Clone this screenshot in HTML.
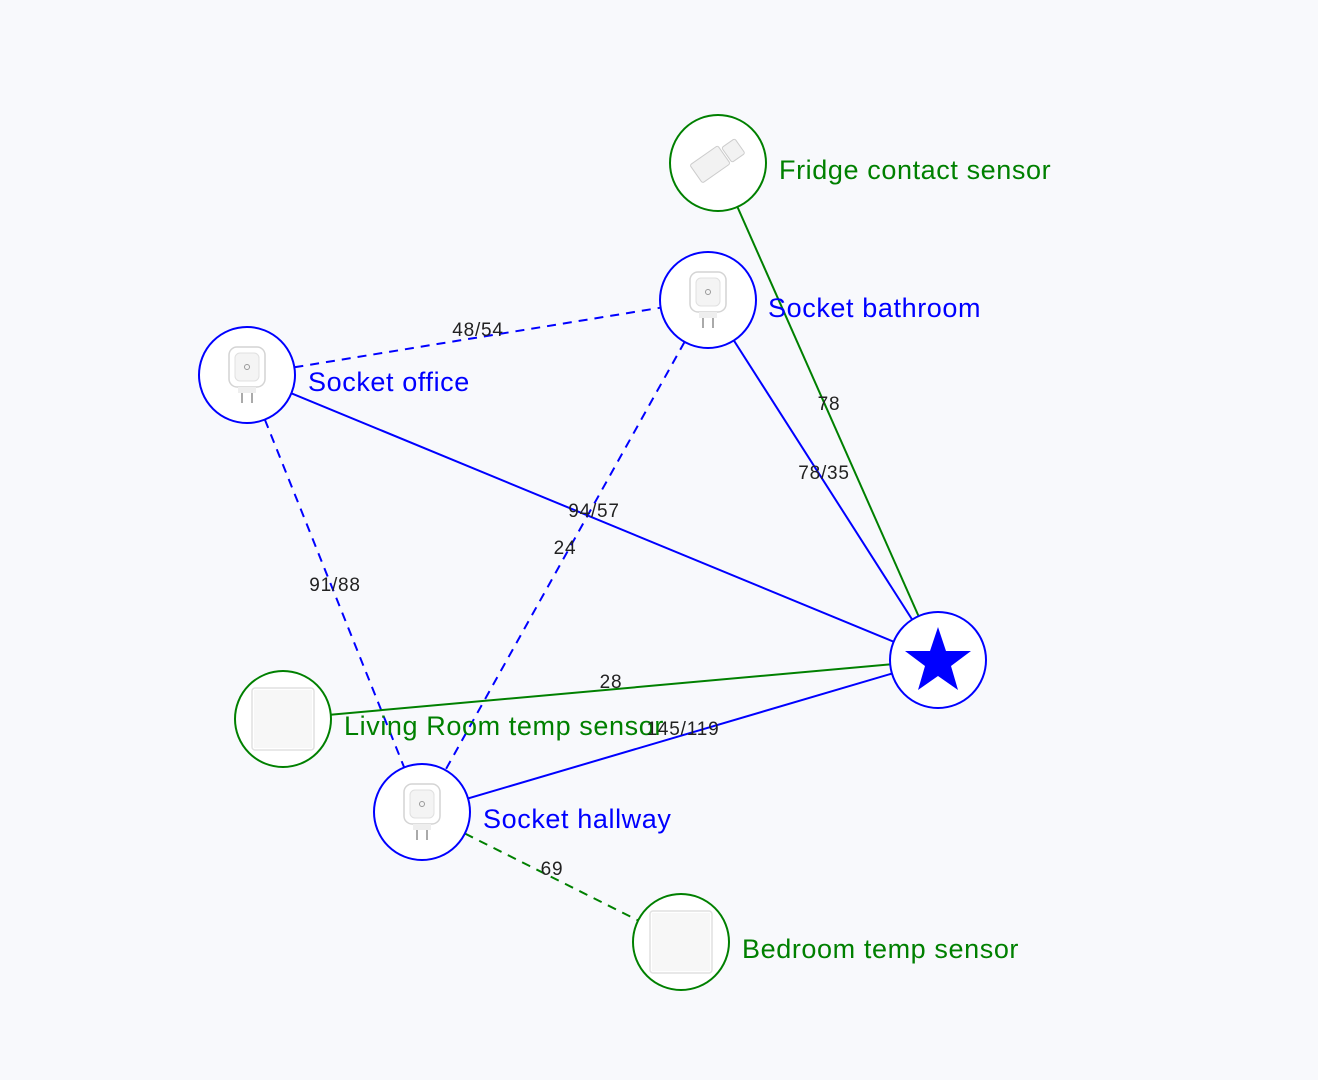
<!DOCTYPE html>
<html><head><meta charset="utf-8"><style>
html,body{margin:0;padding:0;background:#f8f9fc;}
svg{display:block}
.lbl{font-family:"Liberation Sans",sans-serif;font-size:27px;letter-spacing:0.6px;}
.el{font-family:"Liberation Sans",sans-serif;font-size:19px;letter-spacing:0.8px;fill:#222;}
</style></head><body>
<svg width="1318" height="1080" viewBox="0 0 1318 1080" xmlns="http://www.w3.org/2000/svg">
<rect width="1318" height="1080" fill="#f8f9fc"/>
<defs>
<g id="sock">
<rect x="-18" y="-26" width="36" height="40" rx="8" fill="#fff" stroke="#d4d4d4" stroke-width="1.5"/>
<rect x="-12" y="-20" width="24" height="28" rx="5" fill="#f4f4f4" stroke="#e0e0e0"/>
<circle cx="0" cy="-6" r="2.5" fill="none" stroke="#999"/>
<rect x="-9" y="14" width="18" height="6" fill="#eee"/>
<rect x="-6" y="20" width="2" height="10" fill="#aaa"/>
<rect x="4" y="20" width="2" height="10" fill="#aaa"/>
</g>
<g id="sens">
<rect x="-31" y="-31" width="62" height="62" rx="3" fill="#fff" stroke="#e0e0e0" stroke-width="1.5"/>
<rect x="-29" y="-29" width="58" height="58" fill="#f7f7f7"/>
</g>
</defs>
<g stroke-width="2" fill="none">
<line x1="247" y1="375" x2="708" y2="300" stroke="#0000ff" stroke-dasharray="9,7"/>
<line x1="247" y1="375" x2="938" y2="660" stroke="#0000ff"/>
<line x1="247" y1="375" x2="422" y2="812" stroke="#0000ff" stroke-dasharray="9,7"/>
<line x1="708" y1="300" x2="422" y2="812" stroke="#0000ff" stroke-dasharray="9,7"/>
<line x1="708" y1="300" x2="938" y2="660" stroke="#0000ff"/>
<line x1="718" y1="163" x2="938" y2="660" stroke="#008000"/>
<line x1="283" y1="719" x2="938" y2="660" stroke="#008000"/>
<line x1="422" y1="812" x2="938" y2="660" stroke="#0000ff"/>
<line x1="422" y1="812" x2="681" y2="942" stroke="#008000" stroke-dasharray="9,7"/>
</g>
<g stroke-width="2">
<circle cx="718" cy="163" r="48" fill="#fff" stroke="#008000"/>
<circle cx="708" cy="300" r="48" fill="#fff" stroke="#0000ff"/>
<circle cx="247" cy="375" r="48" fill="#fff" stroke="#0000ff"/>
<circle cx="938" cy="660" r="48" fill="#fff" stroke="#0000ff"/>
<circle cx="283" cy="719" r="48" fill="#fff" stroke="#008000"/>
<circle cx="422" cy="812" r="48" fill="#fff" stroke="#0000ff"/>
<circle cx="681" cy="942" r="48" fill="#fff" stroke="#008000"/>
</g>
<use href="#sock" x="708" y="298"/>
<use href="#sock" x="247" y="373"/>
<use href="#sock" x="422" y="810"/>
<use href="#sens" x="283" y="719"/>
<use href="#sens" x="681" y="942"/>
<g transform="translate(718,160) rotate(-35)">
<rect x="-26" y="-12" width="34" height="22" rx="2" fill="#f2f2f2" stroke="#ccc"/>
<rect x="10" y="-8" width="16" height="18" rx="2" fill="#f2f2f2" stroke="#ccc"/>
</g>
<polygon points="938,627 946,651 971,651 951,666 958,690 938,676 918,690 925,666 905,651 930,651" fill="#0000ff"/>
<text class="lbl" x="779" y="179" fill="#008000">Fridge contact sensor</text>
<text class="lbl" x="768" y="317" fill="#0000ff">Socket bathroom</text>
<text class="lbl" x="308" y="391" fill="#0000ff">Socket office</text>
<text class="lbl" x="344" y="735" fill="#008000">Living Room temp sensor</text>
<text class="lbl" x="483" y="828" fill="#0000ff">Socket hallway</text>
<text class="lbl" x="742" y="958" fill="#008000">Bedroom temp sensor</text>
<g class="el" text-anchor="middle">
<text x="478" y="336">48/54</text>
<text x="594" y="517">94/57</text>
<text x="335" y="591">91/88</text>
<text x="565" y="554">24</text>
<text x="824" y="479">78/35</text>
<text x="829" y="410">78</text>
<text x="611" y="688">28</text>
<text x="683" y="735">145/119</text>
<text x="552" y="875">69</text>
</g>
</svg>
</body></html>
